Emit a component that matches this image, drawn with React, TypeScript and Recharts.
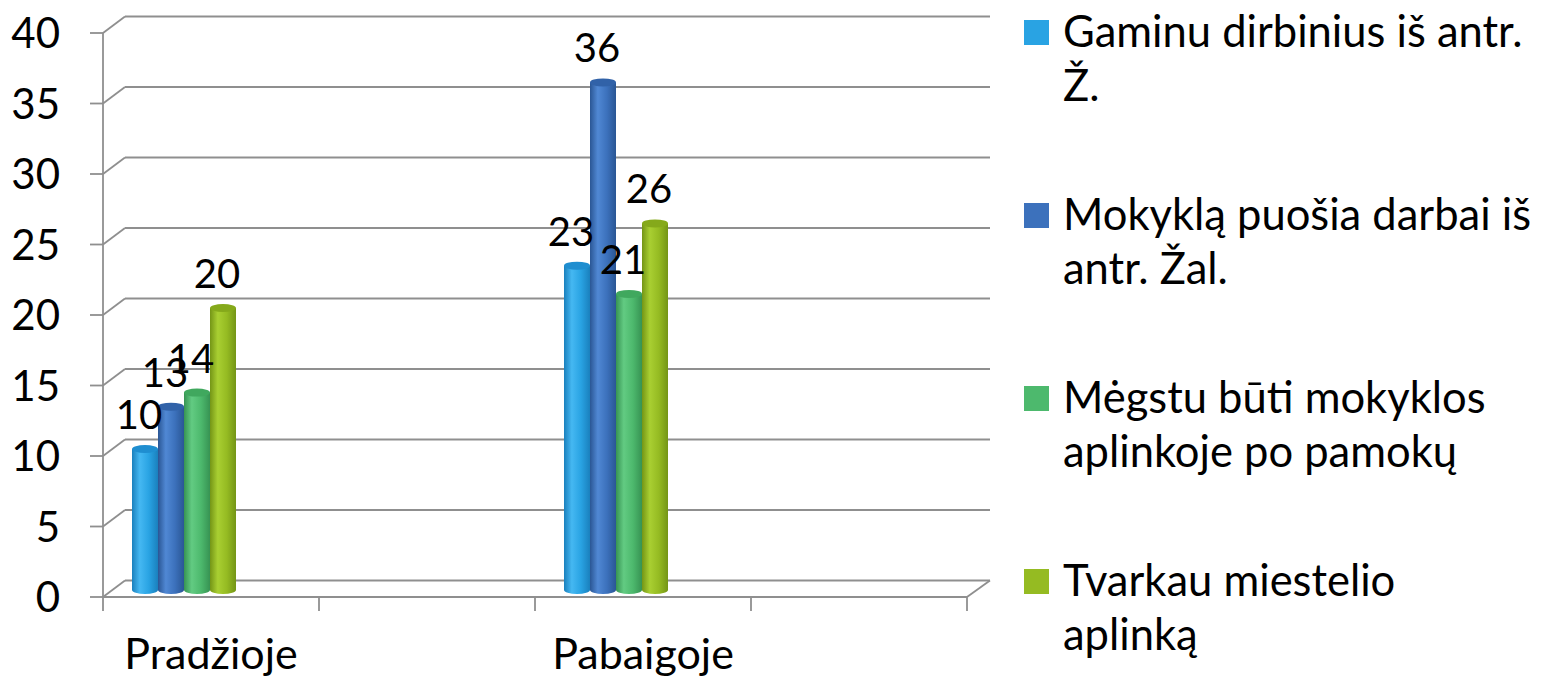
import React from 'react';
import { BarChart, Bar, XAxis, YAxis, CartesianGrid, Legend, LabelList } from 'recharts';

const categories = ['Pradžioje', ' ', 'Pabaigoje', '  '];
const gaminu = [10, null, 23, null];
const mokykla = [13, null, 36, null];
const megstu = [14, null, 21, null];
const tvarkau = [20, null, 26, null];
const yTicks = [0, 5, 10, 15, 20, 25, 30, 35, 40];

const legendLines = [
  ['Gaminu dirbinius iš antr.', 'Ž.'],
  ['Mokyklą puošia darbai iš', 'antr. Žal.'],
  ['Mėgstu būti mokyklos', 'aplinkoje po pamokų'],
  ['Tvarkau miestelio', 'aplinką'],
];
const seriesNames = legendLines.map((l) => l.join(' '));
const seriesKeys = ['s1', 's2', 's3', 's4'];
const seriesValues = [gaminu, mokykla, megstu, tvarkau];

const palette = [
  { base: '#29A3E3', light: '#45B8F2', dark: '#1A80BD', top: '#1F8ED0' },
  { base: '#3C71BC', light: '#5088D4', dark: '#2A5694', top: '#3162A8' },
  { base: '#4DB96D', light: '#62CB82', dark: '#379353', top: '#40A85E' },
  { base: '#95BB22', light: '#A9CF32', dark: '#749516', top: '#85A91B' },
];

const data = categories.map((name, i) => {
  const row: any = { name };
  seriesKeys.forEach((k, s) => {
    row[k] = seriesValues[s][i];
  });
  return row;
});

const FONT = 'Lato, "Open Sans", sans-serif';
const GRID = '#8f8f8f';
const DEPTH_X = 22;
const DEPTH_Y = 16.5;
const BAR_SHIFT_X = -27;
const BAR_SHIFT_Y = -7;

const Cylinder = (props: any) => {
  const { x, y, width, height, seriesIndex, index } = props;
  if (x == null || y == null || !width || height == null || height <= 0) return null;
  const c = palette[seriesIndex];
  const X = x + BAR_SHIFT_X;
  const Y = y + BAR_SHIFT_Y;
  const rx = width / 2;
  const ry = 4;
  const bottom = Y + height;
  const gid = `cyl-${seriesIndex}-${index}`;
  return (
    <g>
      <defs>
        <linearGradient id={gid} x1="0" y1="0" x2="1" y2="0">
          <stop offset="0" stopColor={c.dark} />
          <stop offset="0.3" stopColor={c.light} />
          <stop offset="0.65" stopColor={c.base} />
          <stop offset="1" stopColor={c.dark} />
        </linearGradient>
      </defs>
      <path
        d={`M${X},${Y} L${X},${bottom} A${rx},${ry} 0 0 0 ${X + width},${bottom} L${X + width},${Y} Z`}
        fill={`url(#${gid})`}
      />
      <ellipse cx={X + rx} cy={Y} rx={rx} ry={ry} fill={c.top} />
    </g>
  );
};

const renderValueLabel = (props: any) => {
  const vb = props.viewBox || {};
  const x = props.x ?? vb.x;
  const y = props.y ?? vb.y;
  const width = props.width ?? vb.width;
  const { value } = props;
  if (value == null || x == null) return null;
  return (
    <text
      x={x + width / 2 + BAR_SHIFT_X - 6}
      y={y + BAR_SHIFT_Y - 20}
      textAnchor="middle"
      fontSize={40}
      fontFamily={FONT}
      fill="#000"
    >
      {value}
    </text>
  );
};

const renderGridLine = (props: any) => {
  const { x1, y1, x2, y2, index } = props;
  const plotBottom = props.y != null && props.height != null ? props.y + props.height : null;
  const isFloor = plotBottom != null && Math.abs(y1 - plotBottom) < 1;
  return (
    <g key={`gl-${index}-${y1}`}>
      <line x1={x1} y1={y1} x2={x1 + DEPTH_X} y2={y1 - DEPTH_Y} stroke={GRID} strokeWidth={1.8} />
      <line x1={x1 + DEPTH_X} y1={y1 - DEPTH_Y} x2={x2 + DEPTH_X + 1} y2={y2 - DEPTH_Y} stroke={GRID} strokeWidth={1.8} />
      {isFloor && (
        <line x1={x2} y1={y2} x2={x2 + DEPTH_X + 1} y2={y2 - DEPTH_Y} stroke={GRID} strokeWidth={1.8} />
      )}
    </g>
  );
};

const YTick = (props: any) => {
  const { x, y, payload } = props;
  return (
    <text x={x} y={y} dy={15} textAnchor="end" fontSize={42} fontFamily={FONT} fill="#000">
      {payload.value}
    </text>
  );
};

const XTick = (props: any) => {
  const { x, y, payload, index, visibleTicksCount, width } = props;
  const count = visibleTicksCount || categories.length;
  const band = typeof width === 'number' && width > 0 ? width / count : 216;
  const isLast = index === count - 1;
  return (
    <g>
      <line x1={x - band / 2} y1={y} x2={x - band / 2} y2={y + 14} stroke={GRID} strokeWidth={1.8} />
      {isLast && <line x1={x + band / 2} y1={y} x2={x + band / 2} y2={y + 14} stroke={GRID} strokeWidth={1.8} />}
      <text x={x} y={y} dy={72} textAnchor="middle" fontSize={43} fontFamily={FONT} fill="#000">
        {payload.value}
      </text>
    </g>
  );
};

const renderLegend = () => (
  <svg width={533} height={680} style={{ display: 'block' }}>
    {legendLines.map((lines, i) => {
      const b = 47 + i * 183;
      return (
        <g key={i}>
          <rect x={14} y={b - 27} width={25} height={25} fill={palette[i].base} />
          {lines.map((t, j) => (
            <text key={j} x={53} y={b + j * 54} fontSize={43.5} fontFamily={FONT} fill="#000">
              {t}
            </text>
          ))}
        </g>
      );
    })}
  </svg>
);

export default function App() {
  return (
    <div style={{ position: 'absolute', left: 0, top: 0, width: 1543, height: 680, background: '#fff' }}>
      <BarChart
        width={1543}
        height={680}
        data={data}
        margin={{ top: 33, right: 576, bottom: 33, left: 0 }}
        barGap={0}
        barSize={26}
      >
        <CartesianGrid horizontal={renderGridLine} vertical={false} />
        <XAxis
          dataKey="name"
          height={50}
          axisLine={{ stroke: GRID, strokeWidth: 1.8 }}
          tickLine={false}
          tickSize={0}
          tickMargin={0}
          tick={<XTick />}
          interval={0}
        />
        <YAxis
          domain={[0, 40]}
          ticks={yTicks}
          width={103}
          tickSize={13}
          tickMargin={30}
          tick={<YTick />}
          axisLine={{ stroke: GRID, strokeWidth: 1.8 }}
          tickLine={{ stroke: GRID, strokeWidth: 1.8 }}
        />
        <Legend
          layout="vertical"
          align="center"
          verticalAlign="middle"
          content={renderLegend}
          wrapperStyle={{ position: 'absolute', left: 1010, top: 0, width: 533, height: 680 }}
        />
        {seriesKeys.map((k, s) => (
          <Bar
            key={k}
            dataKey={k}
            name={seriesNames[s]}
            fill={palette[s].base}
            isAnimationActive={false}
            shape={(p: any) => <Cylinder {...p} seriesIndex={s} />}
          >
            <LabelList dataKey={k} content={renderValueLabel} />
          </Bar>
        ))}
      </BarChart>
    </div>
  );
}
